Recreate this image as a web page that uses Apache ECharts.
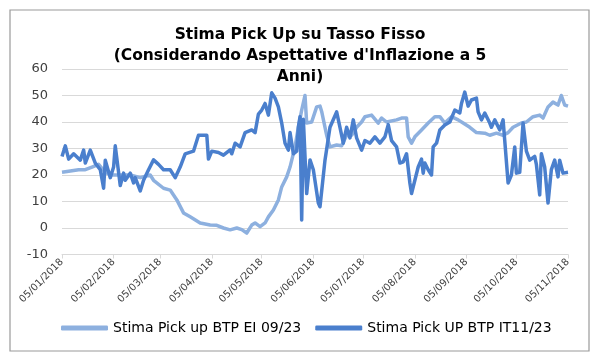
<!DOCTYPE html>
<html>
	<head>
		<meta charset="utf-8">
		<title></title>
		<script src="https://cdn.jsdelivr.net/npm/echarts@6/dist/echarts.min.js" type="text/javascript" charset="utf-8"></script>
		<style>
			body { margin: 0; background: #fff; }
		</style>
	</head>
	<body>
		<div id="main" style="width: 600px;height:360px;"></div>

		<script type="text/javascript">
		// tick dates on the x axis (5th of every month)
		var tickDates = ['2018-01-05', '2018-02-05', '2018-03-05', '2018-04-05', '2018-05-05', '2018-06-05',
			'2018-07-05', '2018-08-05', '2018-09-05', '2018-10-05', '2018-11-05']

		// Stima Pick up BTP EI 09/23
		var lightDates = ['2018-01-05', '2018-01-10', '2018-01-15', '2018-01-19', '2018-01-23', '2018-01-27',
			'2018-01-31', '2018-02-04', '2018-02-09', '2018-02-15', '2018-02-21', '2018-02-27', '2018-03-01',
			'2018-03-07', '2018-03-11', '2018-03-15', '2018-03-19', '2018-03-23', '2018-03-29', '2018-04-04',
			'2018-04-08', '2018-04-12', '2018-04-16', '2018-04-20', '2018-04-23', '2018-04-26', '2018-04-29',
			'2018-05-01', '2018-05-04', '2018-05-07', '2018-05-09', '2018-05-12', '2018-05-15', '2018-05-17',
			'2018-05-20', '2018-05-22', '2018-05-25', '2018-05-27', '2018-05-29', '2018-05-31', '2018-06-01',
			'2018-06-04', '2018-06-07', '2018-06-09', '2018-06-10', '2018-06-13', '2018-06-15', '2018-06-19',
			'2018-06-22', '2018-06-25', '2018-06-28', '2018-07-01', '2018-07-04', '2018-07-06', '2018-07-10',
			'2018-07-14', '2018-07-16', '2018-07-19', '2018-07-25', '2018-07-28', '2018-07-31', '2018-08-01',
			'2018-08-03', '2018-08-05', '2018-08-09', '2018-08-13', '2018-08-17', '2018-08-20', '2018-08-23',
			'2018-08-27', '2018-08-31', '2018-09-03', '2018-09-07', '2018-09-11', '2018-09-16', '2018-09-19',
			'2018-09-23', '2018-09-27', '2018-09-30', '2018-10-03', '2018-10-08', '2018-10-11', '2018-10-15',
			'2018-10-19', '2018-10-21', '2018-10-24', '2018-10-27', '2018-10-30', '2018-11-01', '2018-11-03',
			'2018-11-05']
		var lightValues = [21, 21.5, 22, 22, 23, 24,
			21, 20, 20, 20, 19, 20, 18,
			15, 14.3, 10.6, 5.7, 4.2, 1.9, 1.1,
			1, 0, -0.7, 0, -0.6, -1.9, 1.1,
			1.9, 0.5, 1.9, 4.2, 6.8, 10.6, 15.5,
			19.3, 23, 30.6, 38, 44.5, 50, 39.6,
			40, 45.7, 46, 44, 35, 30.6, 31.3,
			31, 35, 35, 38, 40, 42, 42.6,
			39.6, 41.5, 40, 40.8, 41.5, 41.5, 34.4,
			32, 34.4, 37, 39.6, 42, 42, 39.6,
			42, 40.8, 39.6, 38, 36, 35.8, 35,
			35.8, 35, 36, 38, 39.6, 40, 42,
			42.6, 41.5, 45.7, 47.5, 46.4, 50, 46.4,
			46]

		// Stima Pick UP BTP IT11/23
		var darkDates = ['2018-01-05', '2018-01-07', '2018-01-09', '2018-01-12', '2018-01-13', '2018-01-16',
			'2018-01-18', '2018-01-19', '2018-01-22', '2018-01-25', '2018-01-28', '2018-01-30', '2018-01-31',
			'2018-02-03', '2018-02-05', '2018-02-06', '2018-02-09', '2018-02-11', '2018-02-12', '2018-02-15',
			'2018-02-17', '2018-02-18', '2018-02-21', '2018-02-23', '2018-02-26', '2018-03-01', '2018-03-04',
			'2018-03-07', '2018-03-11', '2018-03-14', '2018-03-17', '2018-03-20', '2018-03-25', '2018-03-28',
			'2018-04-02', '2018-04-03', '2018-04-05', '2018-04-09', '2018-04-12', '2018-04-16', '2018-04-17',
			'2018-04-19', '2018-04-22', '2018-04-25', '2018-04-29', '2018-05-01', '2018-05-03', '2018-05-05',
			'2018-05-07', '2018-05-09', '2018-05-11', '2018-05-13', '2018-05-15', '2018-05-17', '2018-05-19',
			'2018-05-21', '2018-05-22', '2018-05-24', '2018-05-26', '2018-05-27', '2018-05-28', '2018-05-29',
			'2018-05-30', '2018-06-01', '2018-06-03', '2018-06-05', '2018-06-08', '2018-06-09', '2018-06-12',
			'2018-06-15', '2018-06-19', '2018-06-21', '2018-06-23', '2018-06-25', '2018-06-27', '2018-06-29',
			'2018-07-01', '2018-07-04', '2018-07-06', '2018-07-09', '2018-07-12', '2018-07-15', '2018-07-18',
			'2018-07-20', '2018-07-22', '2018-07-25', '2018-07-27', '2018-07-29', '2018-07-31', '2018-08-02',
			'2018-08-03', '2018-08-05', '2018-08-07', '2018-08-09', '2018-08-10', '2018-08-11', '2018-08-13',
			'2018-08-15', '2018-08-16', '2018-08-18', '2018-08-20', '2018-08-23', '2018-08-26', '2018-08-29',
			'2018-09-01', '2018-09-02', '2018-09-04', '2018-09-06', '2018-09-08', '2018-09-11', '2018-09-12',
			'2018-09-14', '2018-09-16', '2018-09-19', '2018-09-20', '2018-09-22', '2018-09-25', '2018-09-27',
			'2018-09-28', '2018-09-30', '2018-10-02', '2018-10-04', '2018-10-05', '2018-10-07', '2018-10-09',
			'2018-10-11', '2018-10-13', '2018-10-16', '2018-10-17', '2018-10-19', '2018-10-20', '2018-10-22',
			'2018-10-24', '2018-10-26', '2018-10-28', '2018-10-30', '2018-10-31', '2018-11-02', '2018-11-05']
		var darkValues = [27, 31, 26, 28, 28, 25.6,
			29.4, 24.5, 29.4, 24.5, 22, 15, 25.6,
			19, 23, 31, 16, 20.7, 18, 20.7,
			17, 19, 14, 18, 22, 25.7, 24,
			22, 22, 19, 23, 28, 29, 35,
			35, 26, 29, 28.5, 27.5, 29.5, 28,
			32, 30.6, 36, 37, 36, 43, 44.5,
			47, 42.6, 51, 49, 45.7, 39.6, 32,
			29.4, 36, 28, 29, 38, 42, 3,
			41, 13, 25.7, 22, 9.4, 8, 25.6,
			38, 43.8, 38, 32, 38, 34, 40.8,
			34, 29.4, 33, 32, 34.4, 32, 34.4,
			39, 33, 30.6, 24.5, 25, 28, 17,
			13, 18, 23, 26, 20.7, 24.5, 22,
			20, 30.6, 32, 37, 38.9, 40, 44.5,
			43.4, 47, 51.3, 46, 48.3, 49, 43.8,
			40.8, 43.4, 39.6, 38, 40.8, 37, 40.8,
			33, 17, 20, 30.6, 20.7, 21, 39.6,
			29, 25.6, 27, 24, 12.5, 28, 23,
			9.4, 22, 25.6, 19.3, 25.6, 20.7, 21]

		var lightColor = '#8db0df'
		var darkColor = '#4a7fcd'
		var font = 'DejaVu Sans'

		function toTime(d) {
			return new Date(d + 'T00:00:00').getTime()
		}

		function pairs(dates, values) {
			var out = []
			for (var i = 0; i < dates.length; i++) {
				out.push([toTime(dates[i]), values[i]])
			}
			return out
		}

		var ticks = tickDates.map(toTime)
		var xMin = ticks[0]
		var xMax = ticks[ticks.length - 1]

		function fmtDate(v) {
			var d = new Date(v)
			var dd = ('0' + d.getDate()).slice(-2)
			var mm = ('0' + (d.getMonth() + 1)).slice(-2)
			return dd + '/' + mm + '/' + d.getFullYear()
		}

		var myChart = echarts.init(document.getElementById('main'))
		myChart.setOption({
			animation: false,
			backgroundColor: '#fff',
			graphic: [{
				type: 'rect',
				shape: { x: 10, y: 10, width: 579, height: 341 },
				style: { fill: 'none', stroke: '#9a9a9a', lineWidth: 1.2 },
				silent: true
			}],
			title: {
				text: "Stima Pick Up su Tasso Fisso\n(Considerando Aspettative d'Inflazione a 5\nAnni)",
				left: 'center',
				top: 19,
				textStyle: { fontFamily: font, fontSize: 15.5, fontWeight: 'bold', lineHeight: 21, color: '#000' }
			},
			legend: {
				left: 56,
				top: 316,
				icon: 'roundRect',
				itemWidth: 47,
				itemHeight: 5,
				itemGap: 14,
				textStyle: { fontFamily: font, fontSize: 14, color: '#000' },
				data: ['Stima Pick up BTP EI 09/23', 'Stima Pick UP BTP IT11/23']
			},
			grid: { left: 62, right: 32, top: 69, bottom: 105.5 },
			xAxis: [
				{
					type: 'value',
					min: xMin,
					max: xMax,
					splitLine: { show: false },
					axisLine: { show: false },
					axisTick: { show: false },
					axisLabel: {
						customValues: ticks,
						rotate: 45,
						margin: 6,
						fontFamily: font,
						fontSize: 10,
						color: '#404040',
						formatter: function (v) { return fmtDate(v) }
					}
				},
				{
					// axis line with tick marks sitting on the zero line
					type: 'value',
					min: xMin,
					max: xMax,
					position: 'bottom',
					splitLine: { show: false },
					axisLine: { show: true, onZero: true, lineStyle: { color: '#d9d9d9' } },
					axisTick: { show: true, customValues: ticks, length: 4, lineStyle: { color: '#d9d9d9' } },
					axisLabel: { show: false }
				}
			],
			yAxis: {
				type: 'value',
				min: -10,
				max: 60,
				interval: 10,
				axisLine: { show: false },
				axisTick: { show: false },
				splitLine: { lineStyle: { color: '#d9d9d9', width: 1 } },
				axisLabel: { fontFamily: font, fontSize: 13, color: '#404040', margin: 14 }
			},
			series: [
				{
					name: 'Stima Pick up BTP EI 09/23',
					type: 'line',
					xAxisIndex: 0,
					showSymbol: false,
					color: lightColor,
					lineStyle: { width: 3.5, color: lightColor, join: 'round' },
					data: pairs(lightDates, lightValues)
				},
				{
					name: 'Stima Pick UP BTP IT11/23',
					type: 'line',
					xAxisIndex: 0,
					showSymbol: false,
					color: darkColor,
					lineStyle: { width: 3.5, color: darkColor, join: 'round' },
					data: pairs(darkDates, darkValues)
				}
			]
		})
		</script>
	</body>
</html>
